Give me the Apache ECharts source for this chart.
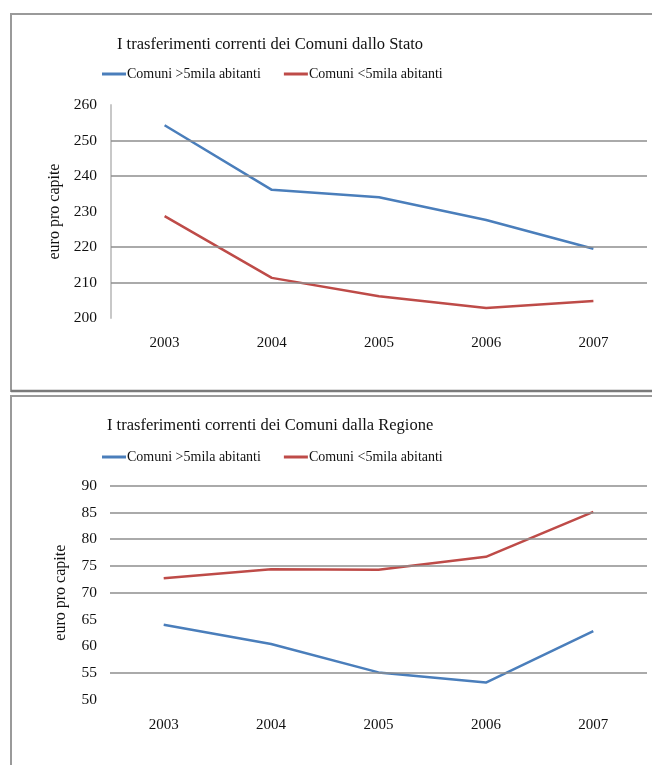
<!DOCTYPE html>
<html>
<head>
<meta charset="utf-8">
<script src="https://cdn.jsdelivr.net/npm/echarts@6/dist/echarts.min.js"></script>
<style>
  html, body { margin: 0; padding: 0; background: #ffffff; }
  #chart { width: 652px; height: 765px; }
</style>
</head>
<body>
<div id="chart"></div>
<script>
// Anni di riferimento
const anni = ['2003', '2004', '2005', '2006', '2007'];

// Trasferimenti dallo Stato (euro pro capite)
const statoSopra5mila = [254.3, 236.1, 234.0, 227.6, 219.5];
const statoSotto5mila = [228.7, 211.3, 206.1, 202.8, 204.8];

// Trasferimenti dalla Regione (euro pro capite)
const regioneSopra5mila = [64.0, 60.4, 55.1, 53.2, 62.8];
const regioneSotto5mila = [72.7, 74.4, 74.3, 76.7, 85.1];

// Linee di griglia visibili in ciascun grafico
const grigliaStato = [250, 240, 220, 210];
const grigliaRegione = [90, 85, 80, 75, 70, 55];

const nomeSopra = 'Comuni >5mila abitanti';
const nomeSotto = 'Comuni <5mila abitanti';

const BLU = '#4A7EBB';
const ROSSO = '#BE4B48';
const SERIF = '"Liberation Serif", "DejaVu Serif", serif';

function lineeGriglia(valori) {
  return {
    silent: true,
    symbol: 'none',
    label: { show: false },
    lineStyle: { color: '#8e8e8e', width: 1.5, type: 'solid' },
    data: valori.map(v => ({ yAxis: v }))
  };
}

function serie(nome, dati, colore, idx, griglia) {
  const s = {
    name: nome,
    type: 'line',
    xAxisIndex: idx,
    yAxisIndex: idx,
    data: dati,
    symbol: 'none',
    smooth: false,
    lineStyle: { color: colore, width: 2.5 },
    itemStyle: { color: colore },
    z: 3
  };
  if (griglia) s.markLine = lineeGriglia(griglia);
  return s;
}

function legenda(top) {
  return {
    left: 102, top: top, padding: 0,
    icon: 'rect', itemWidth: 24, itemHeight: 3, itemGap: 23,
    selectedMode: false,
    data: [nomeSopra, nomeSotto],
    textStyle: { fontFamily: SERIF, fontSize: 14, color: '#111', padding: [0, 0, 0, -4] }
  };
}

const chart = echarts.init(document.getElementById('chart'), null, { renderer: 'canvas' });

chart.setOption({
  backgroundColor: '#ffffff',
  animation: false,
  textStyle: { fontFamily: SERIF },
  title: [
    {
      text: 'I trasferimenti correnti dei Comuni dallo Stato',
      left: 112, top: 31,
      textStyle: { fontFamily: SERIF, fontSize: 16.5, fontWeight: 'normal', color: '#111' }
    },
    {
      text: 'I trasferimenti correnti dei Comuni dalla Regione',
      left: 102, top: 412,
      textStyle: { fontFamily: SERIF, fontSize: 16.5, fontWeight: 'normal', color: '#111' }
    }
  ],
  legend: [legenda(67), legenda(450)],
  grid: [
    { left: 111, right: 5, top: 105, height: 213 },
    { left: 110, right: 5, top: 485.7, height: 214 }
  ],
  xAxis: [0, 1].map(i => ({
    type: 'category',
    gridIndex: i,
    data: anni,
    boundaryGap: true,
    axisLine: { show: false },
    axisTick: { show: false },
    axisLabel: { fontFamily: SERIF, fontSize: 15, color: '#111', margin: 18 }
  })),
  yAxis: [
    {
      type: 'value', gridIndex: 0,
      min: 200, max: 260, interval: 10,
      name: 'euro pro capite', nameLocation: 'middle', nameGap: 47,
      nameTextStyle: { fontFamily: SERIF, fontSize: 16, color: '#111' },
      axisLine: { show: true, lineStyle: { color: '#c8c8c8', width: 2 } },
      axisTick: { show: false },
      splitLine: { show: false },
      axisLabel: { fontFamily: SERIF, fontSize: 15.5, color: '#111', margin: 14 }
    },
    {
      type: 'value', gridIndex: 1,
      min: 50, max: 90, interval: 5,
      name: 'euro pro capite', nameLocation: 'middle', nameGap: 41,
      nameTextStyle: { fontFamily: SERIF, fontSize: 16, color: '#111' },
      axisLine: { show: false },
      axisTick: { show: false },
      splitLine: { show: false },
      axisLabel: { fontFamily: SERIF, fontSize: 15.5, color: '#111', margin: 13 }
    }
  ],
  series: [
    serie(nomeSopra, statoSopra5mila, BLU, 0, grigliaStato),
    serie(nomeSotto, statoSotto5mila, ROSSO, 0, null),
    serie(nomeSopra, regioneSopra5mila, BLU, 1, grigliaRegione),
    serie(nomeSotto, regioneSotto5mila, ROSSO, 1, null)
  ],
  graphic: [
    {
      type: 'rect', silent: true, z: 100,
      shape: { x: 11, y: 14, width: 700, height: 377 },
      style: { fill: 'none', stroke: '#9a9a9a', lineWidth: 2 }
    },
    {
      type: 'line', silent: true, z: 101,
      shape: { x1: 11, y1: 391, x2: 660, y2: 391 },
      style: { stroke: '#7a7a7a', lineWidth: 2.5 }
    },
    {
      type: 'rect', silent: true, z: 100,
      shape: { x: 11, y: 396, width: 700, height: 400 },
      style: { fill: 'none', stroke: '#9a9a9a', lineWidth: 2 }
    }
  ]
});
</script>
</body>
</html>
